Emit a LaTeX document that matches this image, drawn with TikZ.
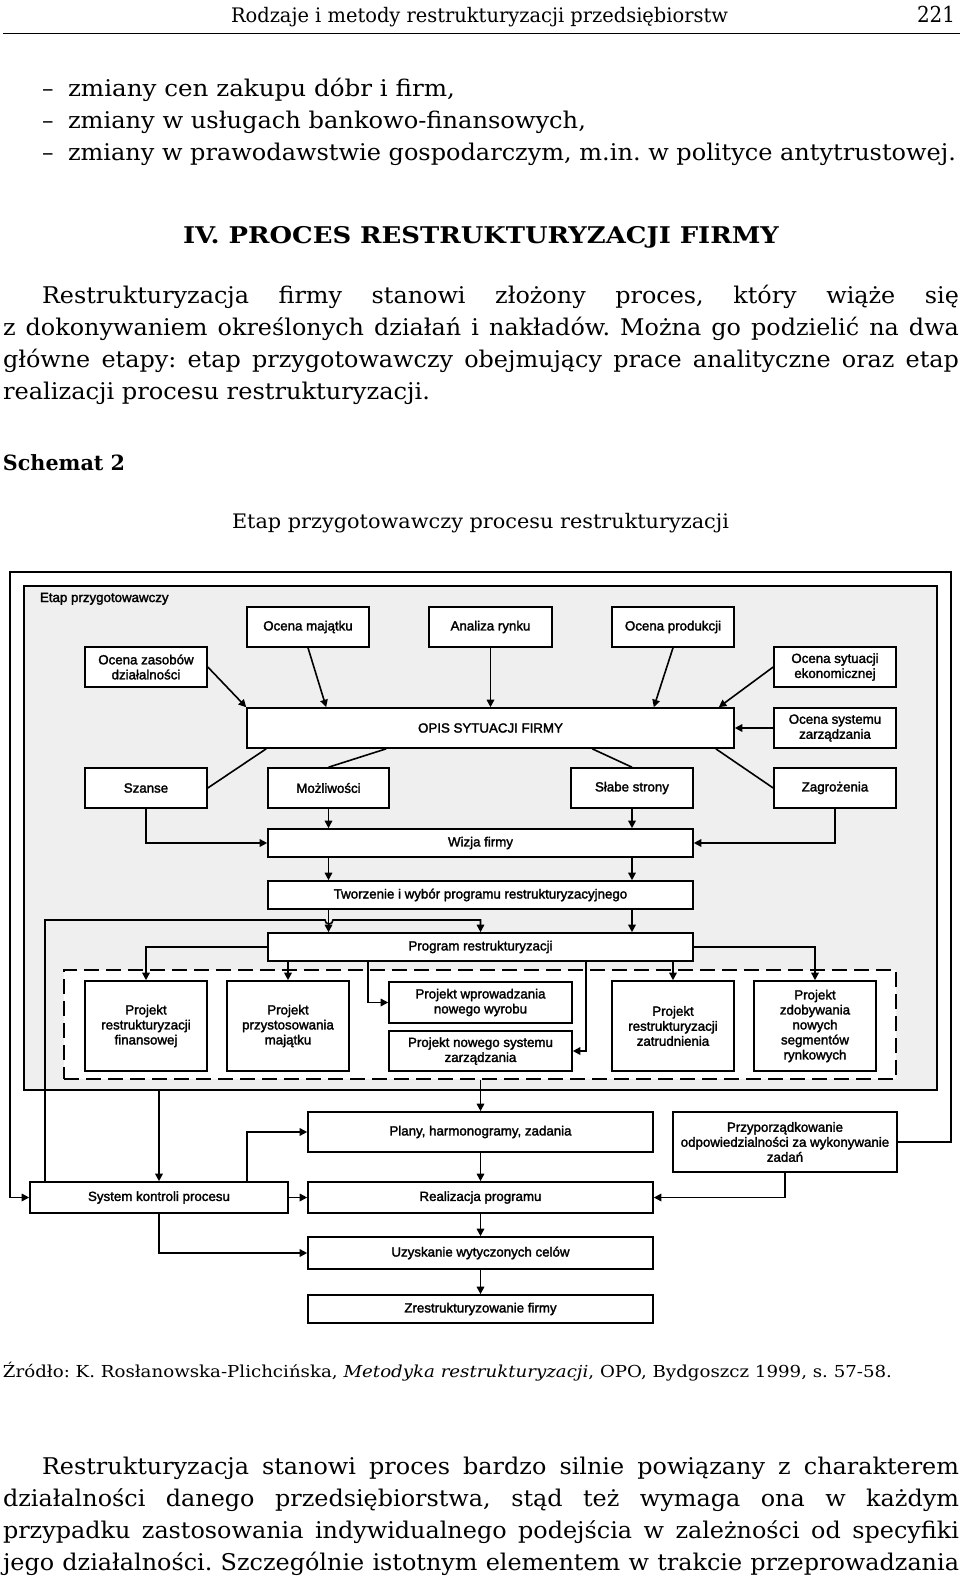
\documentclass[tikz,border=0pt]{standalone}
\usepackage{fontspec}
\setmainfont{DejaVu Serif}
\newfontfamily\dfont[FakeBold=2]{Liberation Sans}
\usepackage{graphicx}
\usetikzlibrary{arrows.meta,calc}
\definecolor{gbg}{RGB}{239,239,239}
\newlength\natw
\newcommand\bodyfont{\fontsize{23}{28}\selectfont}
\newcommand\fitline[2]{\settowidth\natw{#2}\pgfmathsetmacro\fitr{#1/\natw}\scalebox{\fitr}[1]{#2}}
\newcommand\jl[2]{\pgfmathsetmacro\tw{#1/\bs}\scalebox{\bs}[1]{\makebox[\tw pt][s]{\bodyfont #2}}}
\tikzset{
 txt/.style={inner sep=0pt, outer sep=0pt, anchor=base west},
 box/.style={draw, line width=1.6pt, fill=white, align=center, inner sep=0pt, font=\dfont\fontsize{13.3}{15}\selectfont},
 conn/.style={line width=1.6pt},
 arr/.style={conn, -{Triangle[length=7.5pt,width=7.5pt]}},
}
\frenchspacing
\begin{document}
\frenchspacing
\settowidth\natw{\bodyfont zmiany w prawodawstwie gospodarczym, m.in. w polityce antytrustowej.}%
\pgfmathsetmacro\bs{0.995*888/\natw}%
\begin{tikzpicture}[x=1pt,y=-1pt]
\useasboundingbox (0,0) rectangle (960,1576);
% page header
\node[txt] (hdr) at (231,23) {\fontsize{20}{24}\selectfont\fitline{497}{Rodzaje i metody restrukturyzacji przedsiębiorstw}};
\node[txt] (pgno) at (917,23) {\fontsize{22}{24}\selectfont\fitline{38}{221}};
\draw[line width=0.9pt] (3,33) -- (960,33);
% list
\node[txt] (d1) at (42,96.5) {\bodyfont –};
\node[txt] (d2) at (42,128.5) {\bodyfont –};
\node[txt] (d3) at (42,160.5) {\bodyfont –};
\node[txt] (l1) at (68,96.5) {\bodyfont\fitline{387}{zmiany cen zakupu dóbr i firm,}};
\node[txt] (l2) at (68,128.5) {\bodyfont\fitline{518}{zmiany w usługach bankowo-finansowych,}};
\node[txt] (l3) at (68,160.5) {\bodyfont\fitline{888}{zmiany w prawodawstwie gospodarczym, m.in. w polityce antytrustowej.}};
% heading
\node[txt] (hd) at (183,243) {\bodyfont\bfseries\fitline{596}{IV. PROCES RESTRUKTURYZACJI FIRMY}};
% paragraph 1
\node[txt] (p1) at (42,303) {\jl{917}{Restrukturyzacja firmy stanowi złożony proces, który wiąże się}};
\node[txt] (p2) at (3,335) {\jl{956}{z dokonywaniem określonych działań i nakładów. Można go podzielić na dwa}};
\node[txt] (p3) at (3,367) {\jl{956}{główne etapy: etap przygotowawczy obejmujący prace analityczne oraz etap}};
\node[txt] (p4) at (3,399) {\bodyfont\fitline{427}{realizacji procesu restrukturyzacji.}};
\node[txt] (sch) at (3,470.5) {\fontsize{21}{24}\selectfont\bfseries\fitline{122}{Schemat 2}};
\node[txt] (ttl) at (232,528) {\fontsize{20}{24}\selectfont\fitline{497}{Etap przygotowawczy procesu restrukturyzacji}};

% ---------- diagram ----------
\node[draw, line width=1.6pt, fill=gbg, minimum width=913pt, minimum height=504pt, inner sep=0pt] (gray) at (480.5,838) {};
\node[txt, font=\dfont\fontsize{13.3}{15}\selectfont] (lbl) at (40,602) {Etap przygotowawczy};
\node[draw, line width=1.6pt, dash pattern=on 15pt off 7pt, fill=white, minimum width=832pt, minimum height=109pt, inner sep=0pt] (dsh) at (480,1024.5) {};

\node[box, minimum width=122pt, minimum height=40pt] (zas) at (146,667) {Ocena zasobów\\działalności};
\node[box, minimum width=122pt, minimum height=40pt] (maj) at (308,627) {Ocena majątku};
\node[box, minimum width=123pt, minimum height=40pt] (ryn) at (490.5,627) {Analiza rynku};
\node[box, minimum width=122pt, minimum height=40pt] (pro) at (673,627) {Ocena produkcji};
\node[box, minimum width=122pt, minimum height=40pt] (eko) at (835,667) {Ocena sytuacji\\ekonomicznej};
\node[box, minimum width=487pt, minimum height=40pt] (opis) at (490.5,728) {OPIS SYTUACJI FIRMY};
\node[box, minimum width=122pt, minimum height=40pt] (sys) at (835,728) {Ocena systemu\\zarządzania};
\node[box, minimum width=122pt, minimum height=40pt] (sza) at (146,788) {Szanse};
\node[box, minimum width=121pt, minimum height=40pt] (moz) at (328.5,788) {Możliwości};
\node[box, minimum width=122pt, minimum height=40pt] (sla) at (632,788) {Słabe strony};
\node[box, minimum width=122pt, minimum height=40pt] (zag) at (835,788) {Zagrożenia};
\node[box, minimum width=425pt, minimum height=28pt] (wiz) at (480.5,843) {Wizja firmy};
\node[box, minimum width=425pt, minimum height=28pt] (two) at (480.5,895) {Tworzenie i wybór programu restrukturyzacyjnego};
\node[box, minimum width=425pt, minimum height=28pt] (prg) at (480.5,947) {Program restrukturyzacji};

\node[box, minimum width=122pt, minimum height=90pt] (pfin) at (146,1026) {Projekt\\restrukturyzacji\\finansowej};
\node[box, minimum width=122pt, minimum height=90pt] (pmaj) at (288,1026) {Projekt\\przystosowania\\majątku};
\node[box, minimum width=183pt, minimum height=41pt] (pwyr) at (480.5,1002.5) {Projekt wprowadzania\\nowego wyrobu};
\node[box, minimum width=183pt, minimum height=40pt] (pzar) at (480.5,1051) {Projekt nowego systemu\\zarządzania};
\node[box, minimum width=122pt, minimum height=90pt] (pzat) at (673,1026) {Projekt\\restrukturyzacji\\zatrudnienia};
\node[box, minimum width=122pt, minimum height=90pt] (pseg) at (815,1026) {Projekt\\zdobywania\\nowych\\segmentów\\rynkowych};

\node[box, minimum width=345pt, minimum height=40pt] (plany) at (480.5,1132) {Plany, harmonogramy, zadania};
\node[box, minimum width=224pt, minimum height=60pt] (prz) at (785,1142) {Przyporządkowanie\\odpowiedzialności za wykonywanie\\zadań};
\node[box, minimum width=258pt, minimum height=31pt] (skp) at (159,1197.5) {System kontroli procesu};
\node[box, minimum width=345pt, minimum height=31pt] (rea) at (480.5,1197.5) {Realizacja programu};
\node[box, minimum width=345pt, minimum height=32pt] (uzy) at (480.5,1253) {Uzyskanie wytyczonych celów};
\node[box, minimum width=345pt, minimum height=28pt] (zre) at (480.5,1309) {Zrestrukturyzowanie firmy};

% connectors: inputs to OPIS
\draw[arr] (zas.east) -- (opis.north west);
\draw[arr] (maj.south) -- ([xshift=80pt]opis.north west);
\draw[arr] (ryn.south) -- (opis.north -| ryn.south);
\draw[arr] (pro.south) -- ([xshift=-81pt]opis.north east);
\draw[arr] (eko.west) -- ([xshift=-16pt]opis.north east);
\draw[arr] (sys.west) -- (opis.east);
% OPIS to SWOT
\draw[conn] ([xshift=20pt]opis.south west) -- (sza.east);
\draw[conn] ([xshift=140pt]opis.south west) -- (moz.north);
\draw[conn] ([xshift=346pt]opis.south west) -- (sla.north);
\draw[conn] ([xshift=-19pt]opis.south east) -- (zag.west);
% SWOT to Wizja
\draw[arr] (sza.south) |- (wiz.west);
\draw[arr] (moz.south) -- (moz.south |- wiz.north);
\draw[arr] (sla.south) -- (sla.south |- wiz.north);
\draw[arr] (zag.south) |- (wiz.east);
% Wizja -> Tworzenie -> Program
\draw[arr] (wiz.south -| moz.south) -- (two.north -| moz.south);
\draw[arr] (wiz.south -| sla.south) -- (two.north -| sla.south);
\draw[arr] (two.south -| moz.south) -- (prg.north -| moz.south);
\draw[arr] (two.south -| sla.south) -- (prg.north -| sla.south);
% Program -> projects
\draw[arr] (prg.west) -| (pfin.north);
\draw[arr] (prg.south -| pmaj.north) -- (pmaj.north);
\draw[arr] ([xshift=-112.5pt]prg.south) |- (pwyr.west);
\draw[arr] ([xshift=105.5pt]prg.south) |- (pzar.east);
\draw[arr] (prg.south -| pzat.north) -- (pzat.north);
\draw[arr] (prg.east) -| (pseg.north);
% lower part
\draw[arr] (plany.north |- dsh.south) -- (plany.north);
\draw[arr] (gray.south -| skp.north) -- (skp.north);
\coordinate (fa) at (45,920);
\coordinate (fb) at (480.5,920);
\draw[arr] ([xshift=-114pt]skp.north) -- (fa) -- (325,920) arc[start angle=180, end angle=360, radius=4pt] -- (fb) -- (prg.north);
\draw[arr] ([xshift=88pt]skp.north) |- (plany.west);
\draw[arr] (skp.east) -- (rea.west);
\draw[arr] (skp.south) |- (uzy.west);
\draw[arr] (plany.south) -- (rea.north);
\draw[arr] (rea.south) -- (uzy.north);
\draw[arr] (uzy.south) -- (zre.north);
\draw[arr] (prz.south) |- (rea.east);
\coordinate (la) at (951,1142);
\coordinate (lb) at (951,572);
\coordinate (lc) at (10,572);
\draw[arr] (prz.east) -- (la) -- (lb) -- (lc) |- (skp.west);

% source and paragraph 2
\node[txt] (src) at (3,1377) {\fontsize{16.5}{20}\selectfont\fitline{889}{Źródło: K. Rosłanowska-Plichcińska, \textit{Metodyka restrukturyzacji}, OPO, Bydgoszcz 1999, s. 57-58.}};
\node[txt] (q1) at (42,1474) {\jl{917}{Restrukturyzacja stanowi proces bardzo silnie powiązany z charakterem}};
\node[txt] (q2) at (3,1506) {\jl{956}{działalności danego przedsiębiorstwa, stąd też wymaga ona w każdym}};
\node[txt] (q3) at (3,1538) {\jl{956}{przypadku zastosowania indywidualnego podejścia w zależności od specyfiki}};
\node[txt] (q4) at (3,1570) {\jl{956}{jego działalności. Szczególnie istotnym elementem w trakcie przeprowadzania}};
\end{tikzpicture}
\end{document}
